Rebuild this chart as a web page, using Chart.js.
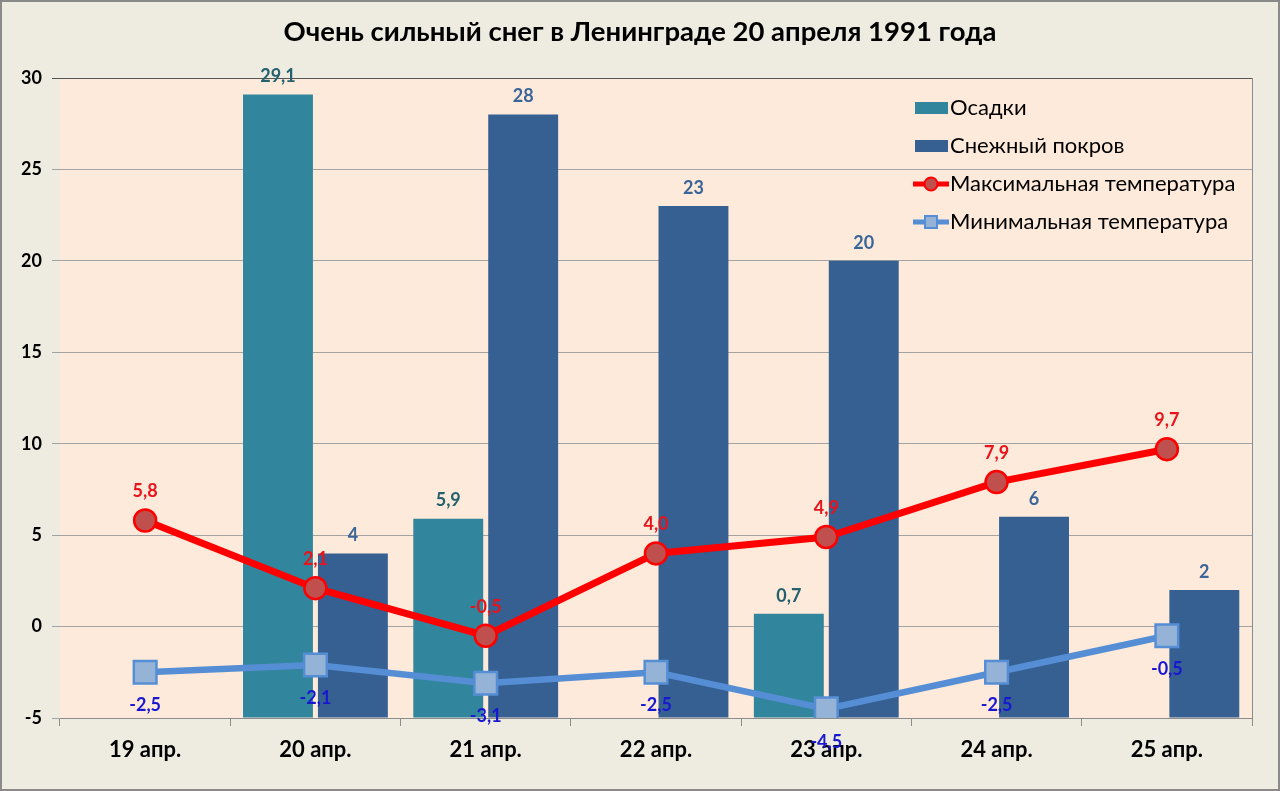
<!DOCTYPE html>
<html lang="ru">
<head>
  <meta charset="UTF-8">
  <title>Очень сильный снег в Ленинграде 20 апреля 1991 года</title>
  <script src="https://cdn.jsdelivr.net/npm/chart.js@4"></script>
  <style>
    html, body {
      margin: 0;
      padding: 0;
      background: #EEECE1;
    }
    canvas {
      display: block;
    }
  </style>
</head>
<body>
  <canvas id="snowChart" width="1280" height="791"></canvas>

  <script>
    const days = ['19 апр.', '20 апр.', '21 апр.', '22 апр.', '23 апр.', '24 апр.', '25 апр.'];
    const precipitation = [null, 29.1, 5.9, null, 0.7, null, null];
    const snowCover = [null, 4, 28, 23, 20, 6, 2];
    const maxTemp = [5.8, 2.1, -0.5, 4.0, 4.9, 7.9, 9.7];
    const minTemp = [-2.5, -2.1, -3.1, -2.5, -4.5, -2.5, -0.5];
    const yTicks = [-5, 0, 5, 10, 15, 20, 25, 30];

    const FONT = 'Lato, "Open Sans", sans-serif';
    const chartTitle = 'Очень сильный снег в Ленинграде 20 апреля 1991 года';

    // background, plot fill, frame and title
    const backdrop = {
      id: 'backdrop',
      beforeDraw(chart) {
        const { ctx, chartArea: a, width, height } = chart;
        ctx.save();
        ctx.fillStyle = '#EEECE1';
        ctx.fillRect(0, 0, width, height);
        ctx.fillStyle = '#FDEADA';
        ctx.fillRect(a.left, a.top, a.right - a.left, a.bottom - a.top);
        ctx.strokeStyle = '#8c8c8c';
        ctx.lineWidth = 1;
        ctx.beginPath();
        ctx.moveTo(a.right + 0.5, a.top);
        ctx.lineTo(a.right + 0.5, a.bottom);
        ctx.stroke();
        ctx.strokeStyle = '#8a8a8a';
        ctx.lineWidth = 2;
        ctx.strokeRect(1, 1, width - 2, height - 2);
        ctx.fillStyle = '#000';
        ctx.font = 'bold 27.5px ' + FONT;
        ctx.textAlign = 'center';
        ctx.textBaseline = 'middle';
        ctx.fillText(chartTitle, 640, 32);
        ctx.restore();
      }
    };

    // numbers above bars and next to points
    const valueLabels = {
      id: 'valueLabels',
      afterDraw(chart) {
        const ctx = chart.ctx;
        ctx.save();
        ctx.font = 'bold 18px ' + FONT;
        ctx.textAlign = 'center';
        ctx.textBaseline = 'middle';
        chart.data.datasets.forEach((ds, i) => {
          const meta = chart.getDatasetMeta(i);
          meta.data.forEach((el, j) => {
            const v = ds.data[j];
            if (v == null) return;
            const text = (ds.digits ? v.toFixed(ds.digits) : String(v)).replace('.', ',');
            ctx.fillStyle = ds.labelColor;
            ctx.fillText(text, el.x, el.y + ds.labelOffset);
          });
        });
        ctx.restore();
      }
    };

    // legend drawn inside the plot area, top right
    const innerLegend = {
      id: 'innerLegend',
      afterDraw(chart) {
        const ctx = chart.ctx;
        const x0 = 915, rows = [108, 146, 184, 222];
        ctx.save();
        ctx.font = '22px ' + FONT;
        ctx.textBaseline = 'middle';
        ctx.textAlign = 'left';
        chart.data.datasets.forEach((ds, i) => {
          const y = rows[i];
          if (ds.type === 'line') {
            ctx.strokeStyle = ds.borderColor;
            ctx.lineWidth = 5;
            ctx.beginPath();
            ctx.moveTo(x0 - 2, y);
            ctx.lineTo(x0 + 34, y);
            ctx.stroke();
            ctx.fillStyle = ds.pointBackgroundColor;
            ctx.strokeStyle = ds.pointBorderColor;
            ctx.lineWidth = 2;
            ctx.beginPath();
            if (ds.pointStyle === 'rect') {
              ctx.rect(x0 + 10, y - 6, 12, 12);
            } else {
              ctx.arc(x0 + 16, y, 6.5, 0, Math.PI * 2);
            }
            ctx.fill();
            ctx.stroke();
          } else {
            ctx.fillStyle = ds.backgroundColor;
            ctx.fillRect(x0, y - 6, 33, 12);
          }
          ctx.fillStyle = '#000';
          ctx.fillText(ds.label, x0 + 35, y);
        });
        ctx.restore();
      }
    };

    new Chart(document.getElementById('snowChart'), {
      type: 'bar',
      data: {
        labels: days,
        datasets: [
          {
            label: 'Осадки',
            data: precipitation,
            base: -5,
            backgroundColor: '#31859C',
            order: 2,
            digits: 1,
            labelColor: '#24606E',
            labelOffset: -18
          },
          {
            label: 'Снежный покров',
            data: snowCover,
            base: -5,
            backgroundColor: '#366092',
            order: 2,
            labelColor: '#3A6598',
            labelOffset: -18
          },
          {
            type: 'line',
            label: 'Максимальная температура',
            data: maxTemp,
            borderColor: '#FF0000',
            borderWidth: 7,
            pointStyle: 'circle',
            pointRadius: 11,
            pointBackgroundColor: '#C0504D',
            pointBorderColor: '#FF0000',
            pointBorderWidth: 2.5,
            order: 1,
            digits: 1,
            labelColor: '#E8141C',
            labelOffset: -29
          },
          {
            type: 'line',
            label: 'Минимальная температура',
            data: minTemp,
            borderColor: '#558ED5',
            borderWidth: 6.5,
            pointStyle: 'rect',
            pointRadius: 16,
            pointBackgroundColor: '#95B3D7',
            pointBorderColor: '#558ED5',
            pointBorderWidth: 2.5,
            order: 1,
            digits: 1,
            labelColor: '#1818D0',
            labelOffset: 33
          }
        ]
      },
      options: {
        responsive: false,
        animation: false,
        categoryPercentage: 0.88,
        barPercentage: 0.933,
        layout: {
          padding: { top: 78, right: 28, left: 0, bottom: 0 }
        },
        plugins: {
          legend: { display: false },
          title: { display: false },
          tooltip: { enabled: false }
        },
        scales: {
          x: {
            grid: {
              offset: true,
              drawOnChartArea: false,
              drawTicks: true,
              tickLength: 8,
              color: '#8c8c8c'
            },
            border: { color: '#8c8c8c' },
            ticks: {
              color: '#000',
              font: { family: FONT, size: 22, weight: 'bold' },
              padding: 11
            },
            afterFit(scale) { scale.height = 73; }
          },
          y: {
            min: -5,
            max: 30,
            afterBuildTicks(scale) {
              scale.ticks = yTicks.map(v => ({ value: v }));
            },
            grid: {
              color: ctx => ctx.tick && ctx.tick.value === 30 ? '#555' : '#a3a3a3',
              tickLength: 8
            },
            border: { display: false },
            ticks: {
              color: '#000',
              font: { family: FONT, size: 18, weight: 'bold' },
              padding: 10
            },
            afterFit(scale) { scale.width = 60; }
          }
        }
      },
      plugins: [backdrop, valueLabels, innerLegend]
    });
  </script>
</body>
</html>
